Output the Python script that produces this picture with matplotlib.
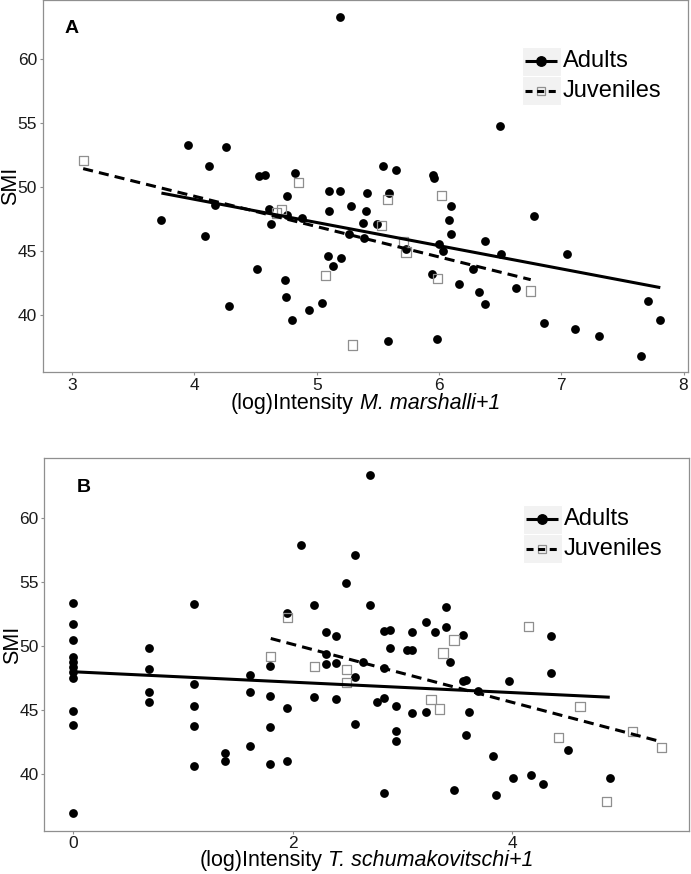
import matplotlib
matplotlib.use('Agg')
import matplotlib.pyplot as plt
import numpy as np
from matplotlib.patches import Rectangle
from matplotlib.lines import Line2D
from matplotlib.offsetbox import TextArea, HPacker, AnchoredOffsetbox

plt.rcParams['font.family'] = ['Liberation Sans', 'DejaVu Sans']

# ---------------- Panel A data: (log)Intensity M. marshalli+1 ----------------
a_adult_x = [5.19, 3.95, 4.12, 4.26, 4.53, 4.58, 4.82, 4.76, 5.10, 5.19,
             6.50, 5.54, 5.65, 5.95, 5.96, 5.41, 5.59, 3.73, 4.09, 4.17,
             4.51, 4.28, 4.61, 4.63, 4.76, 4.88, 4.74, 4.75, 4.80, 4.94,
             5.04, 5.09, 5.13, 5.20, 5.10, 5.28, 5.26, 5.40, 5.38, 5.49,
             5.39, 6.10, 6.08, 6.10, 6.00, 6.03, 5.73, 6.38, 6.51, 6.28,
             5.94, 6.16, 6.33, 6.38, 6.63, 6.78, 7.05, 6.86, 7.11, 7.31,
             7.65, 7.71, 7.81, 5.58, 5.98]
a_adult_y = [63.32, 53.29, 51.67, 53.14, 50.92, 51.00, 51.13, 49.30, 49.75, 49.75,
             54.80, 51.65, 51.39, 50.95, 50.73, 49.59, 49.59, 47.43, 46.23, 48.60,
             43.60, 40.73, 48.29, 47.17, 47.87, 47.64, 42.74, 41.43, 39.66, 40.45,
             40.96, 44.67, 43.83, 44.46, 48.13, 48.52, 46.39, 48.13, 47.22, 47.11,
             46.04, 48.52, 47.43, 46.39, 45.55, 45.03, 45.21, 45.81, 44.77, 43.65,
             43.21, 42.42, 41.85, 40.88, 42.13, 47.76, 44.77, 39.40, 38.91, 38.38,
             36.82, 41.12, 39.63, 37.99, 38.12]
a_juv_x = [3.09, 4.85, 4.71, 4.67, 5.07, 5.29, 5.58, 5.53, 5.71, 5.73, 6.02, 5.99, 6.75]
a_juv_y = [52.12, 50.38, 48.29, 48.00, 43.13, 37.68, 49.05, 47.01, 45.73, 44.95, 49.36, 42.89, 41.90]
# fitted regression lines (end points)
a_fit_adult_x = [3.73, 7.81]
a_fit_adult_y = [49.56, 42.17]
a_fit_juv_x = [3.09, 6.75]
a_fit_juv_y = [51.47, 42.79]

# ---------------- Panel B data: (log)Intensity T. schumakovitschi+1 ----------------
b_adult_x = [0, 0, 0, 0, 0, 0, 0, 0, 0, 0, 0,
             0.693, 0.693, 0.693, 0.693,
             1.099, 1.099, 1.099, 1.099, 1.099,
             1.386, 1.386,
             1.609, 1.609, 1.609,
             1.792, 1.792, 1.792, 1.792,
             1.946, 1.946, 1.946,
             2.079,
             2.197, 2.197,
             2.303, 2.303, 2.303,
             2.398, 2.398, 2.398,
             2.485,
             2.565, 2.565, 2.565,
             2.639,
             2.708, 2.708,
             2.773,
             2.833, 2.833, 2.833, 2.833,
             2.890, 2.890,
             2.944, 2.944, 2.944,
             3.045,
             3.091, 3.091, 3.091,
             3.219, 3.219,
             3.296,
             3.401, 3.401,
             3.434, 3.466,
             3.555, 3.555,
             3.584, 3.584,
             3.611, 3.689, 3.829, 3.850, 3.970, 4.007, 4.174, 4.277,
             4.357, 4.357,
             4.511, 4.890]
b_adult_y = [53.38, 51.71, 50.44, 49.09, 48.70, 48.31, 47.92, 47.51, 44.91, 43.82, 36.97,
             49.84, 48.16, 46.36, 45.63,
             53.27, 47.03, 45.28, 43.72, 40.58,
             41.61, 40.99,
             47.68, 46.39, 42.18,
             48.39, 46.05, 43.66, 40.77,
             52.60, 45.12, 40.99,
             57.84,
             53.19, 45.98,
             51.06, 49.37, 48.56,
             50.73, 48.65, 45.82,
             54.88,
             57.11, 47.53, 43.90,
             48.70,
             63.37, 53.19,
             45.64,
             51.12, 48.24, 45.93, 38.48,
             51.24, 49.84,
             45.32, 43.33, 42.55,
             49.69,
             51.04, 49.69, 44.73,
             51.82, 44.81,
             51.04,
             53.03, 51.48,
             48.73, 38.72,
             50.83, 47.27,
             47.33, 43.00,
             44.86, 46.45, 41.37, 38.36, 47.25, 39.65, 39.91, 39.17,
             50.78, 47.85,
             41.85, 39.66]
b_juv_x = [1.80, 1.95, 2.20, 2.49, 2.49, 3.26, 3.34, 3.37, 3.47, 4.15, 4.42, 4.62, 4.86, 5.10, 5.36]
b_juv_y = [49.14, 52.21, 48.39, 48.13, 47.15, 45.81, 45.07, 49.43, 50.46, 51.48, 42.85, 45.25, 37.85, 43.30, 42.03]
b_fit_adult_x = [0.0, 4.89]
b_fit_adult_y = [47.97, 45.98]
b_fit_juv_x = [1.80, 5.36]
b_fit_juv_y = [50.57, 42.50]

y_ticks = [40, 45, 50, 55, 60]
a_x_ticks = [3, 4, 5, 6, 7, 8]
b_x_ticks = [0, 2, 4]
legend_labels = ['Adults', 'Juveniles']

GREY = '#8f8f8f'
W, H = 691, 874

fig = plt.figure(figsize=(W / 100, H / 100), dpi=100)
axA = fig.add_axes([42.7 / W, 1 - 372.3 / H, 645.6 / W, 372.3 / H])
axB = fig.add_axes([44.3 / W, 1 - 830.7 / H, 645.0 / W, 372.4 / H])


def draw_legend(ax):
    tr = ax.transAxes
    x0, wk = 0.7419, 0.0604
    keys = [(0.7959, 0.0787, 0.8362), (0.7180, 0.0779, 0.7564)]
    for (yb, hk, yc) in keys:
        ax.add_patch(Rectangle((x0, yb), wk, hk, transform=tr, facecolor='#f2f2f2',
                               edgecolor='white', lw=0.8, zorder=5, clip_on=False))
    yc1, yc2 = keys[0][2], keys[1][2]
    ax.add_line(Line2D([0.747, 0.796], [yc1, yc1], transform=tr, color='black', lw=2.2,
                       solid_capstyle='butt', zorder=6))
    ax.add_line(Line2D([0.7717], [yc1], transform=tr, marker='o', ms=6.8, color='black',
                       lw=0, zorder=7))
    ax.add_line(Line2D([0.747, 0.796], [yc2, yc2], transform=tr, color='black', lw=2.2,
                       linestyle=(0, (2.3, 1.5)), dash_capstyle='butt', zorder=7))
    ax.add_line(Line2D([0.7717], [yc2], transform=tr, marker='s', ms=5.8, mfc='none',
                       mec=GREY, mew=0.9, lw=0, zorder=6))
    for lab, yc in zip(legend_labels, [yc1, yc2]):
        ax.text(0.8055, yc, lab, transform=tr, fontsize=17, va='center', ha='left',
                color='black', zorder=8)


def xtitle(ax, species, ypos):
    t1 = TextArea('(log)Intensity', textprops=dict(fontsize=15.5, color='black'))
    t2 = TextArea(species, textprops=dict(fontsize=15.5, style='italic', color='black'))
    box = HPacker(children=[t1, t2], align='baseline', pad=0, sep=4.3)
    anc = AnchoredOffsetbox(loc='upper center', child=box, pad=0, borderpad=0,
                            frameon=False, bbox_to_anchor=(0.5, ypos),
                            bbox_transform=ax.transAxes)
    ax.add_artist(anc)


def panel(ax, ad_x, ad_y, ju_x, ju_y, fits, xlim, xticks, species, letter, letter_x,
          xt_y):
    ax.scatter(ad_x, ad_y, s=40, c='black', marker='o', linewidths=0, zorder=2)
    ax.scatter(ju_x, ju_y, s=45, marker='s', facecolors='none', edgecolors=GREY,
               linewidths=0.9, zorder=3)
    for (fx, fy, ls) in fits:
        ax.plot(fx, fy, color='black', lw=2.2, linestyle=ls,
                solid_capstyle='butt', dash_capstyle='butt', zorder=4)
    ax.set_xlim(*xlim)
    ax.set_ylim(35.55, 64.65)
    ax.set_xticks(xticks)
    ax.set_yticks(y_ticks)
    for s in ax.spines.values():
        s.set_color(GREY)
        s.set_linewidth(0.9)
    ax.tick_params(direction='out', length=2.5, width=0.8, color=GREY, labelsize=12.5,
                   pad=1.5, labelcolor='#1a1a1a')
    ax.set_ylabel('SMI', fontsize=15.5)
    ax.yaxis.set_label_coords(-0.0335, 0.5)
    xtitle(ax, species, xt_y)
    ax.text(letter_x, 62.05, letter, fontsize=14, fontweight='bold', ha='left',
            va='baseline')
    draw_legend(ax)


panel(axA, a_adult_x, a_adult_y, a_juv_x, a_juv_y,
      [(a_fit_adult_x, a_fit_adult_y, '-'), (a_fit_juv_x, a_fit_juv_y, (0, (3.3, 2.0)))],
      (2.759, 8.039), a_x_ticks, 'M. marshalli+1', 'A', 2.94, -0.055)
panel(axB, b_adult_x, b_adult_y, b_juv_x, b_juv_y,
      [(b_fit_adult_x, b_fit_adult_y, '-'), (b_fit_juv_x, b_fit_juv_y, (0, (3.3, 2.0)))],
      (-0.264, 5.615), b_x_ticks, 'T. schumakovitschi+1', 'B', 0.034, -0.0505)

fig.savefig('out.png', dpi=100)
